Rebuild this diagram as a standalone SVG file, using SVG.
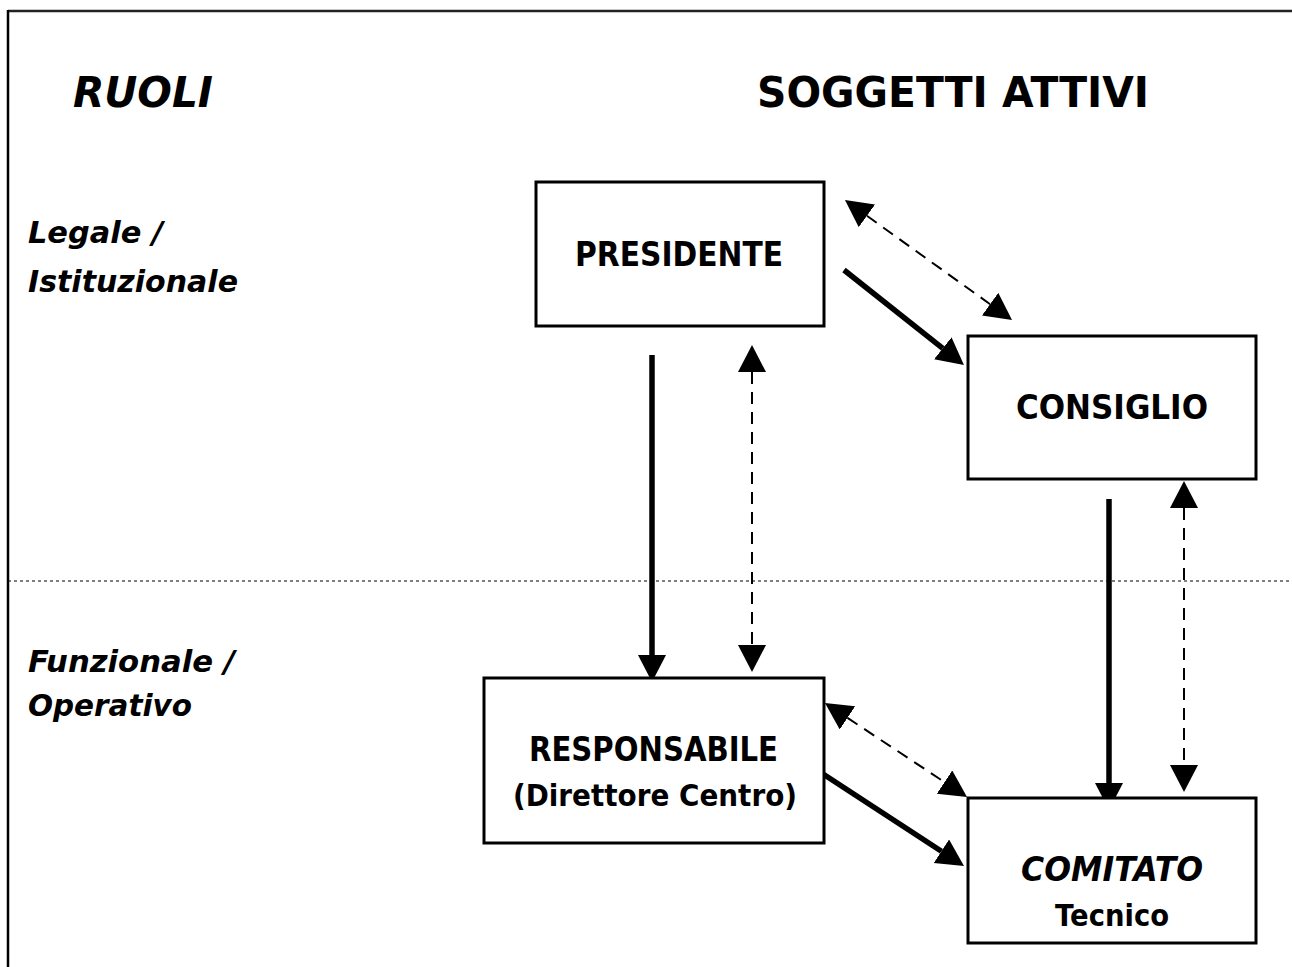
<svg xmlns="http://www.w3.org/2000/svg" width="1292" height="967" viewBox="0 0 1292 967">
<style>
  .t { font-family: "DejaVu Sans", "Liberation Sans", sans-serif; font-weight: bold; fill: #000; }
  .it { font-style: italic; }
  .box { fill: #fff; stroke: #000; stroke-width: 3; }
  .solid { stroke: #000; stroke-width: 5.5; fill: none; }
  .dash { stroke: #000; stroke-width: 2; fill: none; stroke-dasharray: 12 8; }
</style>
<defs>
  <marker id="ah" markerUnits="userSpaceOnUse" markerWidth="30" markerHeight="30" refX="0" refY="14" orient="auto-start-reverse" viewBox="0 0 30 30">
    <path d="M0,0 L27,14 L0,28 Z" fill="#000"/>
  </marker>
</defs>
<rect width="1292" height="967" fill="#fff"/>
<g id="frame">
  <line x1="8" y1="11" x2="1292" y2="11" stroke="#222" stroke-width="2.5"/>
  <line x1="8" y1="10" x2="8" y2="967" stroke="#000" stroke-width="2.5"/>
  <line x1="8" y1="581" x2="1292" y2="581" stroke="#000" stroke-width="1" stroke-dasharray="3 3"/>
</g>
<g id="headers">
  <text class="t it" x="73" y="107" font-size="43" textLength="140" lengthAdjust="spacingAndGlyphs">RUOLI</text>
  <text class="t" x="757" y="107" font-size="43" textLength="392" lengthAdjust="spacingAndGlyphs">SOGGETTI ATTIVI</text>
</g>
<g id="roles">
  <text class="t it" x="28" y="243" font-size="30" textLength="135" lengthAdjust="spacingAndGlyphs">Legale /</text>
  <text class="t it" x="28" y="292" font-size="30" textLength="210" lengthAdjust="spacingAndGlyphs">Istituzionale</text>
  <text class="t it" x="28" y="672" font-size="30" textLength="207" lengthAdjust="spacingAndGlyphs">Funzionale /</text>
  <text class="t it" x="28" y="716" font-size="30" textLength="164" lengthAdjust="spacingAndGlyphs">Operativo</text>
</g>
<g id="connectors">
  <line class="solid" x1="844" y1="270" x2="942.8" y2="348.3" marker-end="url(#ah)"/>
  <line class="dash" x1="866.9" y1="215.8" x2="990.1" y2="304.2" marker-start="url(#ah)" marker-end="url(#ah)"/>
  <line class="solid" x1="652" y1="355" x2="652" y2="655" marker-end="url(#ah)"/>
  <line class="dash" x1="752" y1="372" x2="752" y2="645" marker-start="url(#ah)" marker-end="url(#ah)"/>
  <line class="solid" x1="1109" y1="499" x2="1109" y2="783" marker-end="url(#ah)"/>
  <line class="dash" x1="1184" y1="508" x2="1184" y2="765" marker-start="url(#ah)" marker-end="url(#ah)"/>
  <line class="dash" x1="847.5" y1="717.9" x2="944.5" y2="782.1" marker-start="url(#ah)" marker-end="url(#ah)"/>
  <line class="solid" x1="820" y1="772" x2="941.4" y2="851.2" marker-end="url(#ah)"/>
</g>
<g id="presidente">
  <rect class="box" x="536" y="182" width="288" height="144"/>
  <text class="t" x="575" y="266" font-size="33" textLength="208" lengthAdjust="spacingAndGlyphs">PRESIDENTE</text>
</g>
<g id="consiglio">
  <rect class="box" x="968" y="336" width="288" height="143"/>
  <text class="t" x="1016" y="419" font-size="33" textLength="192" lengthAdjust="spacingAndGlyphs">CONSIGLIO</text>
</g>
<g id="responsabile">
  <rect class="box" x="484" y="678" width="340" height="165"/>
  <text class="t" x="529" y="761" font-size="33" textLength="249" lengthAdjust="spacingAndGlyphs">RESPONSABILE</text>
  <text class="t" x="513" y="806" font-size="30" textLength="284" lengthAdjust="spacingAndGlyphs">(Direttore Centro)</text>
</g>
<g id="comitato">
  <rect class="box" x="968" y="798" width="288" height="145"/>
  <text class="t it" x="1021" y="881" font-size="33" textLength="182" lengthAdjust="spacingAndGlyphs">COMITATO</text>
  <text class="t" x="1055" y="926" font-size="30" textLength="114" lengthAdjust="spacingAndGlyphs">Tecnico</text>
</g>
</svg>
